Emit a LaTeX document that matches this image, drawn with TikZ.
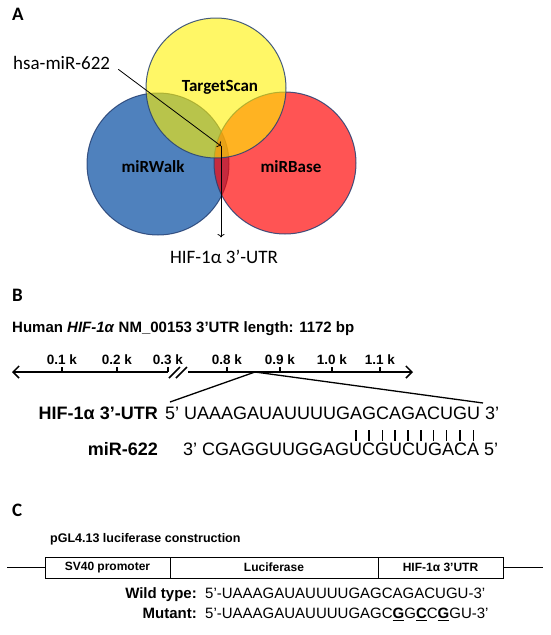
\documentclass[tikz,border=0pt]{standalone}
\usepackage{fontspec}
\setmainfont{Liberation Sans}
\newfontfamily\calibri{Carlito}
\usetikzlibrary{arrows.meta}
\definecolor{walkblue}{RGB}{79,129,189}
\definecolor{rimblue}{RGB}{37,64,115}
\newcommand{\fsz}[1]{\fontsize{#1}{#1}\selectfont}
\newcommand{\mutbase}[1]{\underline{\textbf{#1}}}
\tikzset{
  venn/.style={draw=rimblue, line width=1pt, draw opacity=0.85},
  vlabel/.style={font=\calibri\bfseries\fsz{17}, anchor=base, inner sep=0pt},
  panel/.style={font=\calibri\bfseries\fsz{19}, anchor=base west, inner sep=0pt},
  axis/.style={line width=1.5pt},
  ticklbl/.style={font=\bfseries\fsz{13.5}, anchor=base, inner sep=0pt},
  seqlbl/.style={font=\bfseries\fsz{18}, anchor=base east, inner sep=0pt},
  seq/.style={font=\fsz{18}, anchor=base west, inner sep=0pt},
  part/.style={draw, line width=0.9pt, minimum height=21pt, inner sep=0pt, font=\bfseries\fsz{12}},
}
\begin{document}
\begin{tikzpicture}[x=1pt,y=-1pt]
  \useasboundingbox (0,0) rectangle (550,635);

  % Partie A : diagramme de Venn
  \node[panel] (lblA) at (12,20) {A};
  \draw[venn, fill=walkblue] (158,164) circle[radius=71pt];
  \draw[venn, fill=red, fill opacity=0.67] (285,163) circle[radius=71pt];
  \draw[venn, fill=yellow, fill opacity=0.6] (216,88) circle[radius=70pt];

  \node[vlabel] (ts) at (220,91) {TargetScan};
  \node[vlabel] (walk) at (153,172) {miRWalk};
  \node[vlabel] (base) at (291,172) {miRBase};

  \node[font=\calibri\fsz{19}, anchor=base west, inner sep=0pt] (mir) at (13,69) {hsa-miR-622};
  \node[font=\calibri\fsz{19}, anchor=base, inner sep=0pt] (utr) at (224,263) {HIF-1α 3’-UTR};
  \coordinate (hit) at (221,146);
  \draw[->, line width=0.8pt] ([xshift=8pt]mir.south east) -- (hit);
  \draw[->, line width=0.8pt, shorten >=12pt] (hit) -- (hit |- utr.north);

  % Partie B : 3'UTR et appariement
  \node[panel] (lblB) at (12,301) {B};
  \node[font=\bfseries\fsz{15}, anchor=base west, inner sep=0pt] (titleB) at (12,332)
    {Human \textit{HIF-1α} NM\_00153 3’UTR length: 1172 bp};

  \coordinate (axL) at (12,372);
  \coordinate (brkL) at (168,372);
  \coordinate (brkR) at (188,372);
  \coordinate (axR) at (413,372);
  \draw[axis, {Straight Barb[length=6pt,width=12pt]}-] (axL) -- (brkL);
  \draw[axis, -{Straight Barb[length=6pt,width=12pt]}] (brkR) -- (axR);
  \draw[axis] (169,378) -- (180,367);
  \draw[axis] (176,378) -- (187,367);
  \foreach \x/\t in {62/0.1, 117/0.2, 168/0.3, 227/0.8, 280/0.9, 332/1.0, 380/1.1} {
    \draw[line width=1.2pt] (\x,372) -- (\x,367);
    \node[ticklbl] (tk\x) at (\x,364.7) {\t{} k};
  }

  \coordinate (zoomTop) at (255,372);
  \coordinate (zoomL) at (170,402);
  \coordinate (zoomR) at (483,403);
  \draw[line width=1.3pt] (zoomL) -- (zoomTop) -- (zoomR);

  \node[seqlbl] (hifLbl) at (158,419.5) {HIF-1α 3’-UTR};
  \node[seq] (hifSeq) at (165,419.5) {5’ UAAAGAUAUUUUGAGCAGACUGU 3’};
  \node[seqlbl] (mirLbl) at (158,455.5) {miR-622};
  \node[seq] (mirSeq) at (183,455.5) {3’ CGAGGUUGGAGUCGUCUGACA 5’};
  \foreach \x in {356,369,382.5,395,408,421,433.5,446.5,460,473.5}
    \draw[line width=1.1pt] (\x,430) -- (\x,441);

  % Partie C : construction luciferase
  \node[panel] (lblC) at (12,516) {C};
  \node[font=\bfseries\fsz{12.5}, anchor=base west, inner sep=0pt] (titleC) at (50,542.5)
    {pGL4.13 luciferase construction};
  \node[part, minimum width=125pt] (sv40) at (107.5,567.5) {SV40 promoter};
  \node[part, minimum width=208pt] (luc) at (274,567.5) {Luciferase};
  \node[part, minimum width=125pt] (utr3) at (440.5,567.5) {HIF-1α 3’UTR};
  \coordinate (vecL) at (7,567.5);
  \coordinate (vecR) at (543,567.5);
  \draw[line width=0.9pt] (vecL) -- (sv40);
  \draw[line width=0.9pt] (utr3) -- (vecR);

  \node[font=\bfseries\fsz{15}, anchor=base east, inner sep=0pt] (wtLbl) at (197,598.4) {Wild type:};
  \node[font=\fsz{15}, anchor=base west, inner sep=0pt] (wtSeq) at (205,598.4) {5’-UAAAGAUAUUUUGAGCAGACUGU-3’};
  \node[font=\bfseries\fsz{15}, anchor=base east, inner sep=0pt] (mutLbl) at (197,618.4) {Mutant:};
  \node[font=\fsz{15}, anchor=base west, inner sep=0pt] (mutSeq) at (205,618.4)
    {5’-UAAAGAUAUUUUGAGC\mutbase{G}G\mutbase{C}C\mutbase{G}GU-3’};
\end{tikzpicture}
\end{document}
